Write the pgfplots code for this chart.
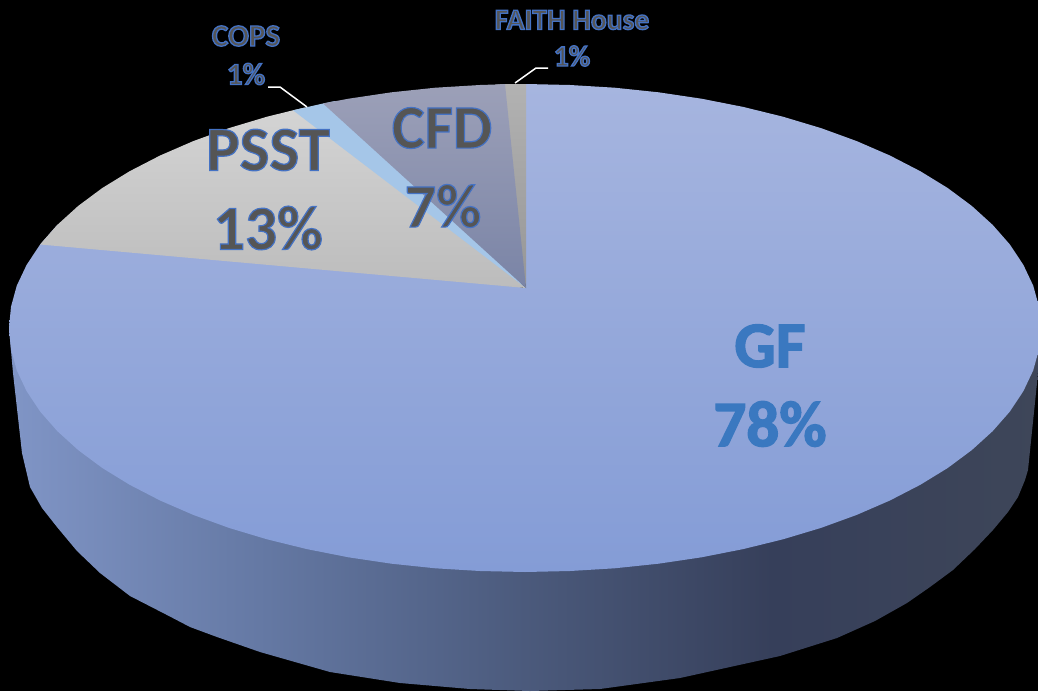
\documentclass[border=0pt]{standalone}
\usepackage{fontspec}
\setmainfont{Carlito}
\usepackage{pgfplots}
\pgfplotsset{compat=1.18}
\definecolor{txtgrey}{HTML}{555555}
\definecolor{gfblue}{HTML}{3A78C0}
\definecolor{wa}{HTML}{8095C6}
\definecolor{wb}{HTML}{6478A3}
\definecolor{wc}{HTML}{4B5A7C}
\definecolor{wd}{HTML}{363F5A}
\definecolor{we}{HTML}{3E4659}
% x = 0, 260, 525, 780, 1040 of the wall
\pgfdeclarehorizontalshading{wall}{100bp}{color(0bp)=(wa); color(25bp)=(wa); color(37.5bp)=(wb);
  color(50bp)=(wc); color(62bp)=(wd); color(75bp)=(we); color(100bp)=(we)}
% outlined text: size, fill colour, stroke width, stroke rgb, text
\newcommand{\lab}[5]{{\fontsize{#1}{#1}\selectfont\bfseries\color{#2}\special{pdf:code 2 Tr #3 w #4 RG}#5\special{pdf:code 0 Tr}}}
\newcommand{\greylab}[3]{\lab{#1}{txtgrey}{#2}{0.267 0.447 0.769}{#3}}
\begin{document}
\begin{tikzpicture}
\begin{axis}[
  width=1038pt, height=691pt, scale only axis,
  xmin=0, xmax=1038, ymin=0, ymax=691,
  y dir=reverse,
  hide axis,
  clip=true,
]
% background
\addplot[draw=none, fill=black] coordinates {(0,0)(1038,0)(1038,691)(0,691)} --cycle;
% side wall, the top face covers its upper part
\addplot[draw=none, shade, shading=wall]
  coordinates {(9,328)(13,373)(22,453)(30,487)(42,508)(57,527)(77,551)(100,573)(130,596)(167,615)(190,627)(217,637)(260,652)
  (330,672)(400,683)(470,689)(530,691)(600,689)(680,678)(780,656)(837,638)(875,621)(907,603)(930,587)(953,570)(975,549)
  (993,530)(1008,512)(1018,497)(1025,480)(1028,470)(1037,383)(1041,330)(525,300)} --cycle;
% GF
\addplot[draw=none, top color={rgb,255:red,166;green,181;blue,223}, bottom color={rgb,255:red,132;green,156;blue,214}]
  coordinates {(526,288)(500,84.5)(526,84)(570,85)(614.6,87.7)(658.5,92.3)(701.5,98.7)(743.1,106.9)(783,116.7)
  (821,128.1)(856.7,141.1)(889.9,155.5)(920.3,171.2)(947.7,188)(971.9,206)(992.7,224.9)(1009.9,244.5)
  (1023.4,264.9)(1033.2,285.6)(1039,306.7)(1041,328)(1039,349.3)(1033.2,370.4)(1023.4,391.1)(1009.9,411.5)
  (992.7,431.1)(971.9,450)(947.7,468)(920.3,484.8)(889.9,500.5)(856.7,514.9)(821,527.9)(783,539.3)
  (743.1,549.1)(701.5,557.3)(658.5,563.7)(614.6,568.3)(570,571)(525,572)(480,571)(435.4,568.3)
  (391.5,563.7)(348.5,557.3)(306.9,549.1)(267,539.3)(229,527.9)(193.3,514.9)(160.1,500.5)(129.7,484.8)
  (102.3,468)(78.1,450)(57.3,431.1)(40.1,411.5)(26.6,391.1)(16.8,370.4)(11,349.3)(9,328)
  (11,306.7)(16.8,285.6)(26.6,264.9)(40.1,244.5)(57.3,224.9)} --cycle;
% PSST
\addplot[draw=none, top color={rgb,255:red,212;green,212;blue,212}, bottom color={rgb,255:red,188;green,188;blue,188}]
  coordinates {(526,288)(40.1,244.5)(57.3,224.9)(78.1,206)(102.3,188)(129.7,171.2)(160.1,155.5)
  (193.3,141.1)(229,128.1)(267,116.7)(293,110.3)(305,107.5)} --cycle;
% COPS
\addplot[draw=none, fill={rgb,255:red,165;green,198;blue,232}]
  coordinates {(526,288)(293,110.3)(323,103.5)(335,101)} --cycle;
% FAITH House
\addplot[draw=none, top color={rgb,255:red,178;green,178;blue,178}, bottom color={rgb,255:red,150;green,150;blue,150}]
  coordinates {(526,288)(495,84.6)(505,84.2)(526,84)} --cycle;
% CFD
\addplot[draw=none, top color={rgb,255:red,156;green,160;blue,184}, bottom color={rgb,255:red,122;green,132;blue,166}]
  coordinates {(526,288)(323,103.5)(348.5,98.7)(391.5,92.3)(435.4,87.7)(480,85)(505,84.2)} --cycle;
% leader lines
\addplot[white, line width=1.5pt] coordinates {(268,87)(280,87)(307,107)};
\addplot[white, line width=1.5pt] coordinates {(515,83)(536,68)(548,68)};
% labels
\node at (axis cs:770,346) {\lab{65}{gfblue}{1.4}{0.227 0.471 0.753}{GF}};
\node at (axis cs:770,424) {\lab{65}{gfblue}{1.4}{0.227 0.471 0.753}{78\%}};
\node at (axis cs:268,150) {\greylab{63}{1.2}{PSST}};
\node at (axis cs:268,228) {\greylab{63}{1.2}{13\%}};
\node at (axis cs:442,128) {\greylab{62}{1.2}{CFD}};
\node at (axis cs:443,206) {\greylab{62}{1.2}{7\%}};
\node at (axis cs:246,36) {\greylab{31}{1.3}{COPS}};
\node at (axis cs:246,74) {\greylab{31}{1.3}{1\%}};
\node at (axis cs:572,20) {\greylab{29.5}{1.3}{FAITH House}};
\node at (axis cs:572,56) {\greylab{29.5}{1.3}{1\%}};
\end{axis}
\end{tikzpicture}
\end{document}
